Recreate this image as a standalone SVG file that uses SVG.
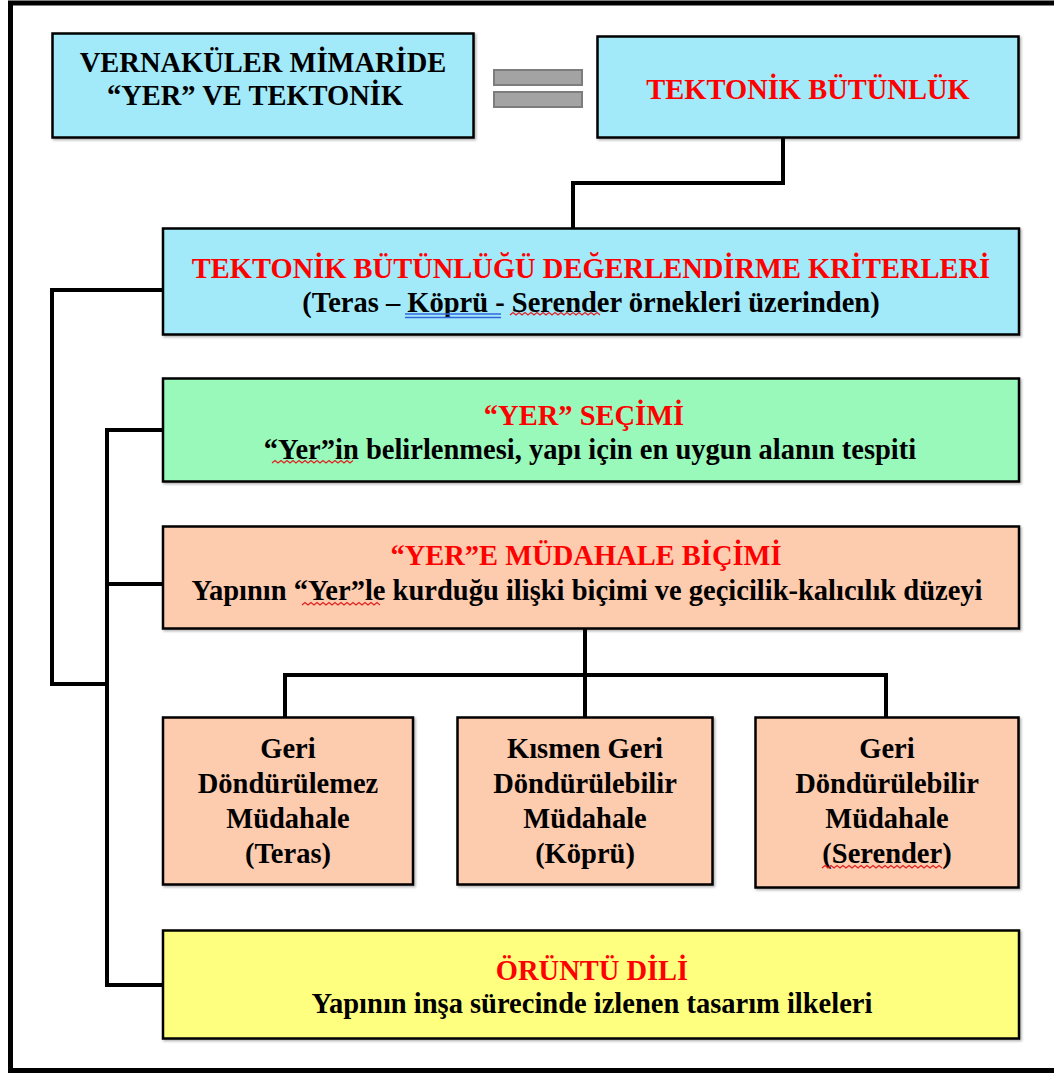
<svg xmlns="http://www.w3.org/2000/svg" width="1054" height="1073" viewBox="0 0 1054 1073">
<style>
.t{font-family:"Liberation Serif","Times New Roman",serif;font-weight:bold;font-size:28.5px;text-anchor:middle;fill:#000}
.r{fill:#ff0000}
.box{stroke:#000;stroke-width:2.5}
.blue{fill:#a2e9f9}
.green{fill:#99f9bb}
.peach{fill:#fdcbae}
.yellow{fill:#ffff7f}
.con{fill:none;stroke:#000;stroke-width:4;stroke-linejoin:miter}
.wavy{fill:none;stroke:#e02020;stroke-width:1.2}
.dbl{stroke:#3366dd;stroke-width:1.5}
</style>
<defs>
<filter id="sh" x="-5%" y="-5%" width="110%" height="115%">
<feDropShadow dx="1.5" dy="1.5" stdDeviation="0.8" flood-color="#000" flood-opacity="0.3"/>
</filter>
</defs>
<rect x="0" y="0" width="1054" height="1073" fill="#fff"/>
<rect x="10.5" y="3" width="1100" height="1067.5" fill="none" stroke="#000" stroke-width="5"/>

<g id="connectors">
<polyline class="con" points="783,138 783,183 573,183 573,228"/>
<polyline class="con" points="162,290 52,290 52,684 107,684"/>
<polyline class="con" points="162,430 107,430 107,985 162,985"/>
<line class="con" x1="107" y1="584" x2="162" y2="584"/>
<polyline class="con" points="585,629 585,717"/>
<polyline class="con" points="285,717 285,675 886,675 886,717"/>
</g>

<g id="equals">
<rect x="494" y="70" width="88" height="15" fill="#a3a3a3" stroke="#7d7d7d" stroke-width="2"/>
<rect x="494" y="92" width="88" height="15" fill="#a3a3a3" stroke="#7d7d7d" stroke-width="2"/>
</g>

<g id="n1">
<rect class="box blue" x="52.5" y="33.5" width="421" height="104" stroke-width="1.5" filter="url(#sh)"/>
<text class="t" x="263" y="72">VERNAKÜLER MİMARİDE</text>
<text class="t" x="255" y="105">“YER” VE TEKTONİK</text>
</g>

<g id="n2">
<rect class="box blue" x="597.5" y="36.5" width="421" height="101" filter="url(#sh)"/>
<text class="t r" x="808" y="99">TEKTONİK BÜTÜNLÜK</text>
</g>

<g id="n3">
<rect class="box blue" x="163" y="228.5" width="856" height="106" filter="url(#sh)"/>
<text class="t r" x="591" y="278">TEKTONİK BÜTÜNLÜĞÜ DEĞERLENDİRME KRİTERLERİ</text>
<text class="t" x="591" y="312">(Teras – Köprü - Serender örnekleri üzerinden)</text>
<line class="dbl" x1="405" y1="314" x2="501" y2="314"/>
<line class="dbl" x1="405" y1="317.5" x2="501" y2="317.5"/>
<path class="wavy" d="M510,315 l3,-2.5 l3,2.5 l3,-2.5 l3,2.5 l3,-2.5 l3,2.5 l3,-2.5 l3,2.5 l3,-2.5 l3,2.5 l3,-2.5 l3,2.5 l3,-2.5 l3,2.5 l3,-2.5 l3,2.5 l3,-2.5 l3,2.5 l3,-2.5 l3,2.5 l3,-2.5 l3,2.5 l3,-2.5 l3,2.5 l3,-2.5 l3,2.5 l3,-2.5 l3,2.5 l3,-2.5 l3,2.5"/>
</g>

<g id="n4">
<rect class="box green" x="163" y="378.5" width="856" height="103" filter="url(#sh)"/>
<text class="t r" x="584" y="425">“YER” SEÇİMİ</text>
<text class="t" x="590" y="459">“Yer”in belirlenmesi, yapı için en uygun alanın tespiti</text>
<path class="wavy" d="M272,463 l3,-2.5 l3,2.5 l3,-2.5 l3,2.5 l3,-2.5 l3,2.5 l3,-2.5 l3,2.5 l3,-2.5 l3,2.5 l3,-2.5 l3,2.5 l3,-2.5 l3,2.5 l3,-2.5 l3,2.5 l3,-2.5 l3,2.5 l3,-2.5 l3,2.5 l3,-2.5 l3,2.5 l3,-2.5 l3,2.5 l3,-2.5 l3,2.5 l3,-2.5"/>
</g>

<g id="n5">
<rect class="box peach" x="163" y="526.5" width="856" height="102" filter="url(#sh)"/>
<text class="t r" x="586" y="565">“YER”E MÜDAHALE BİÇİMİ</text>
<text class="t" x="587" y="600">Yapının “Yer”le kurduğu ilişki biçimi ve geçicilik-kalıcılık düzeyi</text>
<path class="wavy" d="M302,605 l3,-2.5 l3,2.5 l3,-2.5 l3,2.5 l3,-2.5 l3,2.5 l3,-2.5 l3,2.5 l3,-2.5 l3,2.5 l3,-2.5 l3,2.5 l3,-2.5 l3,2.5 l3,-2.5 l3,2.5 l3,-2.5 l3,2.5 l3,-2.5 l3,2.5 l3,-2.5 l3,2.5 l3,-2.5 l3,2.5 l3,-2.5 l3,2.5"/>
</g>

<g id="n6">
<rect class="box peach" x="163" y="717.5" width="250" height="167" filter="url(#sh)"/>
<text class="t" x="288" y="758">Geri</text>
<text class="t" x="288" y="793">Döndürülemez</text>
<text class="t" x="288" y="828">Müdahale</text>
<text class="t" x="288" y="863">(Teras)</text>
</g>

<g id="n7">
<rect class="box peach" x="457.5" y="717.5" width="255" height="167" filter="url(#sh)"/>
<text class="t" x="585" y="758">Kısmen Geri</text>
<text class="t" x="585" y="793">Döndürülebilir</text>
<text class="t" x="585" y="828">Müdahale</text>
<text class="t" x="585" y="863">(Köprü)</text>
</g>

<g id="n8">
<rect class="box peach" x="755.5" y="717.5" width="263" height="170" filter="url(#sh)"/>
<text class="t" x="887" y="758">Geri</text>
<text class="t" x="887" y="793">Döndürülebilir</text>
<text class="t" x="887" y="828">Müdahale</text>
<text class="t" x="887" y="863">(Serender)</text>
<path class="wavy" d="M822,868 l3,-2.5 l3,2.5 l3,-2.5 l3,2.5 l3,-2.5 l3,2.5 l3,-2.5 l3,2.5 l3,-2.5 l3,2.5 l3,-2.5 l3,2.5 l3,-2.5 l3,2.5 l3,-2.5 l3,2.5 l3,-2.5 l3,2.5 l3,-2.5 l3,2.5 l3,-2.5 l3,2.5 l3,-2.5 l3,2.5 l3,-2.5 l3,2.5 l3,-2.5 l3,2.5 l3,-2.5 l3,2.5 l3,-2.5 l3,2.5 l3,-2.5 l3,2.5 l3,-2.5 l3,2.5 l3,-2.5 l3,2.5 l3,-2.5 l3,2.5"/>
</g>

<g id="n9">
<rect class="box yellow" x="163" y="930.5" width="856" height="108" filter="url(#sh)"/>
<text class="t r" x="592" y="980">ÖRÜNTÜ DİLİ</text>
<text class="t" x="592" y="1013">Yapının inşa sürecinde izlenen tasarım ilkeleri</text>
</g>
</svg>
